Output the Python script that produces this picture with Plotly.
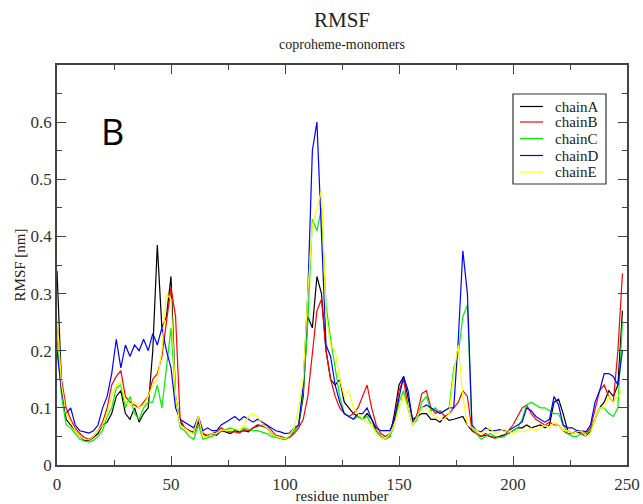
import plotly.graph_objects as go

residues = list(range(0, 250, 2))

chainA = [0.34, 0.14, 0.08, 0.07, 0.06, 0.05, 0.043, 0.043, 0.048, 0.055,
          0.07, 0.075, 0.09, 0.12, 0.13, 0.09, 0.08, 0.10, 0.075, 0.09,
          0.10, 0.20, 0.385, 0.24, 0.26, 0.33, 0.12, 0.075, 0.065, 0.06,
          0.055, 0.075, 0.055, 0.05, 0.055, 0.052, 0.06, 0.058, 0.055, 0.06,
          0.058, 0.06, 0.058, 0.065, 0.07, 0.068, 0.065, 0.055, 0.05, 0.047,
          0.045, 0.05, 0.06, 0.07, 0.12, 0.26, 0.24, 0.33, 0.30, 0.20,
          0.15, 0.14, 0.15, 0.11, 0.10, 0.09, 0.085, 0.08, 0.09, 0.08,
          0.06, 0.05, 0.045, 0.05, 0.09, 0.14, 0.155, 0.12, 0.08, 0.085,
          0.09, 0.09, 0.08, 0.08, 0.075, 0.085, 0.078, 0.08, 0.082, 0.085,
          0.07, 0.06, 0.055, 0.05, 0.052, 0.05, 0.048, 0.05, 0.052, 0.055,
          0.06, 0.065, 0.065, 0.07, 0.065, 0.068, 0.07, 0.065, 0.07, 0.11,
          0.115, 0.09, 0.06, 0.055, 0.058, 0.055, 0.05, 0.06, 0.08, 0.10,
          0.11, 0.13, 0.12, 0.14, 0.27]
chainB = [0.25, 0.15, 0.10, 0.08, 0.065, 0.055, 0.048, 0.045, 0.05, 0.06,
          0.075, 0.10, 0.14, 0.155, 0.165, 0.12, 0.11, 0.105, 0.10, 0.11,
          0.12, 0.15, 0.16, 0.19, 0.25, 0.31, 0.26, 0.08, 0.065, 0.06,
          0.058, 0.08, 0.055, 0.052, 0.055, 0.058, 0.065, 0.06, 0.058, 0.058,
          0.056, 0.062, 0.06, 0.065, 0.068, 0.07, 0.07, 0.06, 0.052, 0.05,
          0.047, 0.048, 0.055, 0.065, 0.08, 0.12, 0.19, 0.27, 0.29, 0.20,
          0.15, 0.12, 0.10, 0.09, 0.085, 0.09, 0.10, 0.12, 0.14, 0.10,
          0.07, 0.055, 0.05, 0.055, 0.08, 0.13, 0.15, 0.10, 0.07, 0.09,
          0.125, 0.13, 0.10, 0.09, 0.095, 0.085, 0.09, 0.10, 0.11, 0.13,
          0.12, 0.06, 0.055, 0.05, 0.055, 0.05, 0.047, 0.048, 0.05, 0.06,
          0.07, 0.085, 0.10, 0.105, 0.09, 0.08, 0.075, 0.07, 0.075, 0.07,
          0.07, 0.06, 0.055, 0.055, 0.06, 0.058, 0.055, 0.065, 0.10, 0.13,
          0.14, 0.12, 0.11, 0.20, 0.335]
chainC = [0.22, 0.12, 0.07, 0.065, 0.055, 0.045, 0.042, 0.04, 0.043, 0.05,
          0.06, 0.085, 0.10, 0.135, 0.14, 0.10, 0.12, 0.09, 0.08, 0.10,
          0.11, 0.11, 0.14, 0.10, 0.17, 0.24, 0.12, 0.065, 0.06, 0.05,
          0.045, 0.07, 0.045, 0.048, 0.05, 0.055, 0.06, 0.062, 0.065, 0.062,
          0.06, 0.065, 0.062, 0.06, 0.06, 0.058, 0.055, 0.05, 0.048, 0.047,
          0.045, 0.05, 0.06, 0.07, 0.13, 0.25, 0.43, 0.41, 0.45, 0.28,
          0.22, 0.17, 0.12, 0.09, 0.085, 0.08, 0.085, 0.08, 0.085, 0.07,
          0.06, 0.05, 0.045, 0.05, 0.07, 0.11, 0.13, 0.10, 0.07, 0.08,
          0.11, 0.12, 0.095, 0.10, 0.09, 0.095, 0.10, 0.17, 0.195, 0.26,
          0.28, 0.065, 0.055, 0.045, 0.05, 0.055, 0.05, 0.048, 0.05, 0.055,
          0.06, 0.065, 0.08, 0.105, 0.11, 0.105, 0.10, 0.10, 0.095, 0.09,
          0.09, 0.07, 0.055, 0.05, 0.05, 0.055, 0.055, 0.06, 0.08, 0.10,
          0.10, 0.09, 0.085, 0.10, 0.25]
chainD = [0.20, 0.13, 0.09, 0.10, 0.07, 0.06, 0.058, 0.056, 0.06, 0.07,
          0.10, 0.12, 0.16, 0.22, 0.17, 0.21, 0.19, 0.21, 0.20, 0.22,
          0.20, 0.23, 0.21, 0.24, 0.20, 0.17, 0.10, 0.08, 0.075, 0.07,
          0.065, 0.085, 0.06, 0.065, 0.06, 0.06, 0.07, 0.075, 0.08, 0.085,
          0.078, 0.085, 0.08, 0.075, 0.08, 0.075, 0.07, 0.065, 0.06, 0.058,
          0.055, 0.056, 0.065, 0.07, 0.14, 0.30, 0.55, 0.60, 0.41, 0.21,
          0.19, 0.14, 0.11, 0.09, 0.085, 0.08, 0.09, 0.09, 0.10, 0.08,
          0.065, 0.06, 0.06, 0.06, 0.08, 0.12, 0.155, 0.13, 0.075, 0.085,
          0.10, 0.105, 0.10, 0.095, 0.09, 0.095, 0.10, 0.10, 0.22, 0.375,
          0.30, 0.07, 0.06, 0.058, 0.065, 0.06, 0.06, 0.062, 0.06, 0.06,
          0.065, 0.07, 0.075, 0.10, 0.095, 0.085, 0.08, 0.075, 0.08, 0.12,
          0.105, 0.07, 0.065, 0.065, 0.06, 0.06, 0.058, 0.07, 0.11, 0.13,
          0.16, 0.16, 0.155, 0.14, 0.20]
chainE = [0.26, 0.14, 0.09, 0.075, 0.06, 0.05, 0.045, 0.044, 0.05, 0.06,
          0.07, 0.09, 0.12, 0.14, 0.145, 0.11, 0.105, 0.11, 0.10, 0.105,
          0.12, 0.14, 0.15, 0.20, 0.30, 0.29, 0.12, 0.07, 0.065, 0.058,
          0.055, 0.085, 0.05, 0.05, 0.055, 0.055, 0.062, 0.06, 0.06, 0.065,
          0.06, 0.07, 0.085, 0.09, 0.085, 0.07, 0.065, 0.055, 0.05, 0.048,
          0.046, 0.052, 0.065, 0.10, 0.15, 0.30, 0.42, 0.45, 0.48, 0.26,
          0.21, 0.20, 0.15, 0.12, 0.13, 0.10, 0.09, 0.08, 0.075, 0.07,
          0.055, 0.048, 0.045, 0.055, 0.07, 0.10, 0.12, 0.10, 0.07, 0.085,
          0.10, 0.10, 0.09, 0.085, 0.08, 0.08, 0.09, 0.16, 0.21, 0.12,
          0.07, 0.065, 0.06, 0.055, 0.06, 0.065, 0.055, 0.058, 0.062, 0.06,
          0.055, 0.06, 0.058, 0.06, 0.065, 0.06, 0.065, 0.07, 0.065, 0.075,
          0.07, 0.06, 0.06, 0.055, 0.058, 0.06, 0.05, 0.055, 0.08, 0.10,
          0.10, 0.12, 0.11, 0.12, 0.13]

chain_names = ["chainA", "chainB", "chainC", "chainD", "chainE"]
chain_values = [chainA, chainB, chainC, chainD, chainE]
chain_colors = ["black", "red", "#00ee00", "blue", "yellow"]

x_tickvals = [0, 50, 100, 150, 200, 250]
y_tickvals = [0, 0.1, 0.2, 0.3, 0.4, 0.5, 0.6]
y_ticktext = ["0", "0.1", "0.2", "0.3", "0.4", "0.5", "0.6"]

serif = "Liberation Serif"
axis_col = "#444444"
W, H = 643, 504
L, R, T, B = 57, 627, 65, 465
pw, ph = R - L, B - T


def px(xp):
    return (xp - L) / pw


def py(yp):
    return (B - yp) / ph


fig = go.Figure()
for name, vals, col in zip(chain_names, chain_values, chain_colors):
    fig.add_trace(go.Scatter(x=residues, y=vals, mode="lines", name=name,
                             line=dict(color=col, width=1.2), showlegend=False))

axis_common = dict(showline=True, linecolor=axis_col, linewidth=1.5, mirror="allticks",
                   ticks="inside", ticklen=9, tickwidth=1.3, tickcolor=axis_col,
                   showgrid=False, zeroline=False, automargin=False,
                   tickfont=dict(family=serif, size=17, color="#333333"))

fig.update_xaxes(range=[0, 250], tickvals=x_tickvals,
                 minor=dict(dtick=25, ticks="inside", ticklen=5, tickcolor=axis_col, tickwidth=1.3),
                 ticklabelstandoff=3,
                 title=dict(text="residue number", font=dict(family=serif, size=15, color="#222"), standoff=4),
                 **axis_common)
fig.update_yaxes(range=[0, 0.7], tickvals=y_tickvals, ticktext=y_ticktext,
                 minor=dict(tick0=0, dtick=0.05, ticks="inside", ticklen=5, tickcolor=axis_col, tickwidth=1.3),
                 title=dict(text="RMSF [nm]", font=dict(family=serif, size=15, color="#222"), standoff=1),
                 **axis_common)

ann = [
    dict(text="RMSF", xref="paper", yref="paper", x=0.5, y=py(20),
         xanchor="center", yanchor="middle", showarrow=False,
         font=dict(family=serif, size=21, color="#222")),
    dict(text="coproheme-monomers", xref="paper", yref="paper", x=0.5, y=py(45),
         xanchor="center", yanchor="middle", showarrow=False,
         font=dict(family=serif, size=14, color="#222")),
    dict(text="B", xref="paper", yref="paper", x=px(112), y=py(131),
         xanchor="center", yanchor="middle", showarrow=False,
         font=dict(family="Open Sans, sans-serif", size=36, color="black")),
]

# legend box drawn to match the xmgrace legend
shapes = [dict(type="rect", xref="paper", yref="paper", x0=px(513), x1=px(606),
               y0=py(184), y1=py(94), line=dict(color="#333", width=1.2),
               fillcolor="white", layer="above")]
entry_y = [106.5, 122, 138.5, 155.5, 172]
for name, col, ey in zip(chain_names, chain_colors, entry_y):
    shapes.append(dict(type="line", xref="paper", yref="paper", x0=px(520), x1=px(543),
                       y0=py(ey), y1=py(ey), line=dict(color=col, width=1.2), layer="above"))
    ann.append(dict(text=name, xref="paper", yref="paper", x=px(553), y=py(ey),
                    xanchor="left", yanchor="middle", showarrow=False,
                    font=dict(family=serif, size=15, color="#222")))

fig.update_layout(
    width=W, height=H,
    margin=dict(l=L, r=W - R, t=T, b=H - B),
    paper_bgcolor="white", plot_bgcolor="white",
    showlegend=False,
    annotations=ann,
    shapes=shapes,
)

fig.write_html("out.html")
